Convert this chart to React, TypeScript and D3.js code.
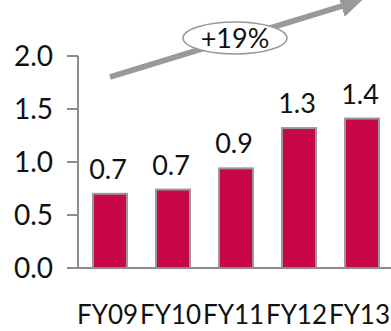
import React from "react";
import * as d3 from "d3";

const categories = ["FY09", "FY10", "FY11", "FY12", "FY13"];
const values = [0.7, 0.74, 0.94, 1.32, 1.41];
const valueLabels = ["0.7", "0.7", "0.9", "1.3", "1.4"];
const yTicks = [0, 0.5, 1.0, 1.5, 2.0];
const growthLabel = "+19%";

const W = 391;
const H = 331;
const FONT = "Lato, 'Open Sans', sans-serif";

export default function App() {
  const x = d3.scaleBand<string>().domain(categories).range([78, 394]).paddingInner(0.46).paddingOuter(0.238);
  const y = d3.scaleLinear().domain([0, 2]).range([268, 56]);
  const axisColor = "#8c8c8c";

  return (
    <svg width={W} height={H} style={{ position: "absolute", left: 0, top: 0 }}>
      <defs>
        <marker id="ah" markerWidth="4" markerHeight="4" refX="2" refY="2" orient="auto" markerUnits="strokeWidth">
          <path d="M0,0 L4,2 L0,4 Z" fill="#999999" />
        </marker>
      </defs>
      {/* bars */}
      {categories.map((c, i) => (
        <rect
          key={c}
          x={x(c)!}
          y={y(values[i])}
          width={x.bandwidth()}
          height={y(0) - y(values[i])}
          fill="#C8064A"
          stroke="#999999"
          strokeWidth={2}
        />
      ))}
      {/* y axis */}
      <line x1={78} x2={78} y1={y(2)} y2={y(0)} stroke={axisColor} strokeWidth={2} />
      {yTicks.map((t) => (
        <g key={t}>
          <line x1={67} x2={78} y1={y(t)} y2={y(t)} stroke={axisColor} strokeWidth={2} />
          <text x={53} y={y(t)} dy="0.36em" textAnchor="end" fontFamily={FONT} fontSize={28} fill="#111">
            {t.toFixed(1)}
          </text>
        </g>
      ))}
      {/* x axis */}
      <line x1={67} x2={394} y1={y(0)} y2={y(0)} stroke={axisColor} strokeWidth={2} />
      {categories.map((c) => (
        <text key={c} x={x(c)! + x.bandwidth() / 2 - 2.5} y={324} textAnchor="middle" fontFamily={FONT} fontSize={26} fill="#111">
          {c}
        </text>
      ))}
      {/* value labels */}
      {categories.map((c, i) => (
        <text key={c} x={x(c)! + x.bandwidth() / 2 - 2} y={y(values[i]) - 15} textAnchor="middle" fontFamily={FONT} fontSize={27} fill="#111">
          {valueLabels[i]}
        </text>
      ))}
      {/* growth arrow */}
      <line x1={110} y1={77} x2={352} y2={3} stroke="#999999" strokeWidth={5.5} markerEnd="url(#ah)" />
      <ellipse cx={235} cy={38} rx={52} ry={16} fill="#fff" stroke="#999999" strokeWidth={1.5} />
      <text x={235} y={38} dy="0.36em" textAnchor="middle" fontFamily={FONT} fontSize={27} fill="#111">
        {growthLabel}
      </text>
    </svg>
  );
}
